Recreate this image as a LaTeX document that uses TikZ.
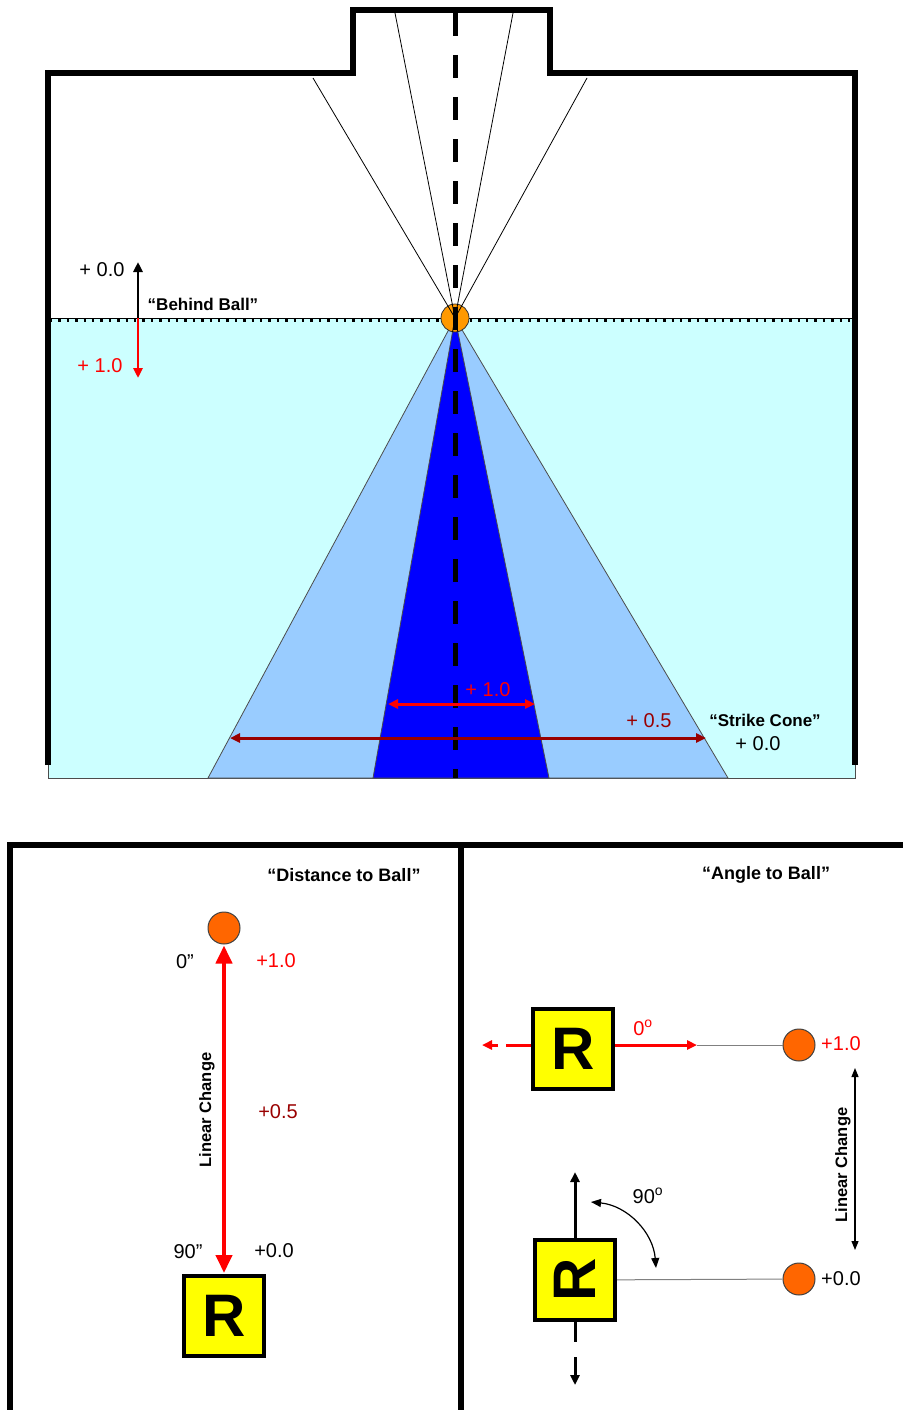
\documentclass[tikz,border=0pt]{standalone}
\usepackage{fontspec}
\setmainfont{Liberation Sans}
\usetikzlibrary{arrows.meta,positioning,calc}
\definecolor{fdCyan}  {RGB}{204,255,255}
\definecolor{fdSky}   {RGB}{153,204,255}
\definecolor{fdBlue}  {RGB}{  0,  0,255}
\definecolor{fdRed}   {RGB}{255,  0,  0}
\definecolor{fdMaroon}{RGB}{153,  0,  0}
\definecolor{fdOrange}{RGB}{255,153,  0}
\definecolor{fdBall}  {RGB}{255,102,  0}
\definecolor{fdYellow}{RGB}{255,255,  0}
\definecolor{fdGrey}  {RGB}{128,128,128}

\begin{document}
\begin{tikzpicture}[x=1pt,y=-1pt,
  >={Triangle[length=10pt,width=9pt]},
  wall/.style ={line width=6pt,line join=miter},
  fan/.style  ={line width=0.8pt,black},
  num/.style  ={font=\fontsize{20}{22}\selectfont,inner sep=1pt},
  lbl/.style  ={font=\fontsize{17}{19}\selectfont\bfseries,inner sep=1pt},
  ballnode/.style={circle,fill=fdBall,draw=black!75,line width=1pt,
               minimum size=32pt,inner sep=0pt},
  rbox/.style ={draw=black,fill=fdYellow,line width=4pt,minimum size=80pt,
               inner sep=0pt,font=\fontsize{60}{60}\selectfont\bfseries},
  redarr/.style={fdRed,line width=3pt},
  blkarr/.style={black,line width=3pt}
]
\useasboundingbox (0,0) rectangle (903,1410);

% ---- top view: field, cones and walls
\coordinate (ball) at (455,318);
\fill[fdCyan] (48,318) rectangle (855,778);
\draw[black!70,line width=0.8pt] (48,318) rectangle (855,778);
\filldraw[fill=fdSky,draw=black!70,line width=0.8pt]
  (ball) -- (208,778) -- (728,778) -- cycle;
\filldraw[fill=fdBlue,draw=black!70,line width=0.8pt]
  (ball) -- (373,778) -- (549,778) -- cycle;

\draw[black,line width=1pt] (48,318) -- (855,318);
\draw[black,line width=2.4pt,dash pattern=on 2.4pt off 6pt] (50,320.5) -- (855,320.5);

\node[circle,fill=fdOrange,draw=black!80,line width=0.8pt,minimum size=28pt,
      inner sep=0pt] (topball) at (ball) {};

\foreach \tx/\ty in {313/78,395/13,513/13,587/78}
  \draw[fan] (ball) -- (\tx,\ty);
\foreach \tx in {373,549}
  \draw[fan] (ball) -- ($(ball)!14pt!(\tx,778)$);

\draw[line width=5pt,dash pattern=on 23pt off 19pt] (455,13) -- (455,778);

\draw[wall] (48,765) |- (353,73) |- (550,10) |- (855,73) -- (855,765);

% behind ball
\coordinate (bbTop) at (138,262);
\coordinate (bbMid) at (138,318);
\coordinate (bbBot) at (138,378);
\draw[->,black,line width=2.5pt] (bbMid) -- (bbTop);
\draw[->,fdRed,line width=2.5pt] (bbMid) -- (bbBot);
\node[num] (bbZero) at (102,270) {+ 0.0};
\node[num,text=fdRed] (bbOne) at (100,366) {+ 1.0};
\node[lbl] (bbText) at (203,304) {“Behind Ball”};

% strike cone
\coordinate (scL) at (388,704);
\coordinate (scR) at (535,704);
\coordinate (wcL) at (230,738);
\coordinate (wcR) at (706,738);
\draw[<->,fdRed,line width=3pt] (scL) -- (scR);
\draw[<->,fdMaroon,line width=3pt] (wcL) -- (wcR);
\node[num,text=fdRed] (scOne) at (488,690) {+ 1.0};
\node[num,text=fdMaroon] (scHalf) at (649,721) {+ 0.5};
\node[lbl] (scText) at (765,720) {“Strike Cone”};
\node[num] (scZero) at (758,744) {+ 0.0};

% ---- bottom panels
\draw[wall] (10,1410) |- (903,845);
\draw[wall] (461,845) -- (461,1410);

% distance to ball
\node[lbl,font=\fontsize{18}{20}\selectfont\bfseries] (dTitle) at (344,875) {“Distance to Ball”};
\node[ballnode] (dBall) at (224,928) {};
\node[rbox] (dRob) at (224,1316) {R};
\draw[{Triangle[length=18pt,width=16pt]}-{Triangle[length=18pt,width=16pt]},
      fdRed,line width=4pt,shorten <=1pt,shorten >=1pt] (dBall) -- (dRob);
\node[num] (dNear) at (185,962) {0”};
\node[num,text=fdRed] (dOne) at (276,961) {+1.0};
\node[num,text=fdMaroon] (dHalf) at (278,1112) {+0.5};
\node[num] (dFar) at (188,1252) {90”};
\node[num] (dZero) at (274,1251) {+0.0};
\node[lbl,font=\fontsize{16.5}{18}\selectfont\bfseries,rotate=90] (dLin) at (207,1110) {Linear Change};

% angle to ball
\node[lbl,font=\fontsize{18}{20}\selectfont\bfseries] (aTitle) at (766,875) {“Angle to Ball”};
\node[rbox] (aRob) at (573,1049) {R};
\node[ballnode] (aBall) at (799,1045) {};
\coordinate (aTip) at (697,1045);
\coordinate (aBack) at (482,1045);
\draw[->,redarr] (aRob.east |- aTip) -- (aTip);
\draw[fdGrey,line width=1pt] (aTip) -- (aBall);
\draw[->,redarr,dash pattern=on 25pt off 8pt] (aRob.west |- aBack) -- (aBack);
\node[num,text=fdRed] (aZeroDeg) at (643,1028) {0\textsuperscript{o}};
\node[num,text=fdRed,anchor=west] (aOne) at (820,1044) {+1.0};

\node[rbox] (aRob2) at (575,1280) {\rotatebox{90}{R}};
\node[ballnode] (aBall2) at (799,1279) {};
\coordinate (aUp) at (575,1172);
\coordinate (aDown) at (575,1385);
\draw[->,blkarr] (aRob2) -- (aUp);
\draw[->,blkarr,dash pattern=on 20pt off 15pt] (aRob2.south) -- (aDown);
\draw[fdGrey,line width=1pt] (aRob2) -- (aBall2);
\node[num,anchor=west] (aZero) at (820,1279) {+0.0};

\coordinate (arcA) at (591,1202);
\coordinate (arcB) at (656,1268);
\draw[{Triangle[length=10pt,width=8pt]}-{Triangle[length=10pt,width=8pt]},
      line width=1.2pt] (arcA) to[bend left=40] (arcB);
\node[num] (aNinety) at (648,1196) {90\textsuperscript{o}};

\coordinate (linTop) at (855,1068);
\coordinate (linBot) at (855,1250);
\draw[{Triangle[length=9pt,width=7pt]}-{Triangle[length=9pt,width=7pt]},
      line width=1.2pt] (linTop) -- (linBot);
\node[lbl,font=\fontsize{16.5}{18}\selectfont\bfseries,rotate=90] (aLin) at (843,1165) {Linear Change};
\end{tikzpicture}
\end{document}
